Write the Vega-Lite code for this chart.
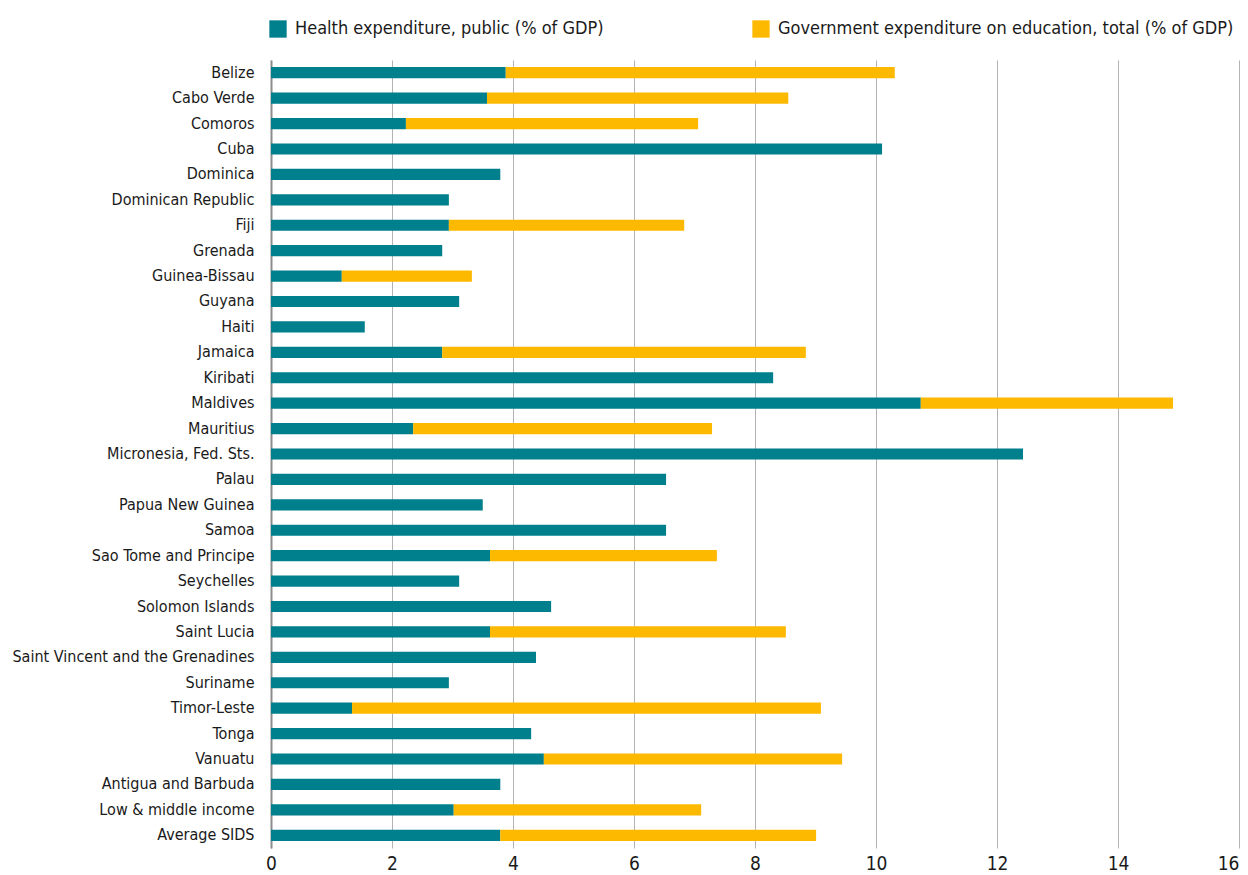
{
  "$schema": "https://vega.github.io/schema/vega-lite/v6.json",
  "width": 968,
  "height": 788,
  "autosize": {"type": "none"},
  "padding": {"left": 271, "top": 60, "right": 9, "bottom": 27},
  "background": "white",
  "config": {
    "font": "DejaVu Sans Condensed, Roboto, sans-serif",
    "view": {"stroke": null}
  },
  "data": {
    "values": [
      {"country": "Belize", "Health expenditure, public (% of GDP)": 3.88, "Government expenditure on education, total (% of GDP)": 6.43},
      {"country": "Cabo Verde", "Health expenditure, public (% of GDP)": 3.57, "Government expenditure on education, total (% of GDP)": 4.98},
      {"country": "Comoros", "Health expenditure, public (% of GDP)": 2.23, "Government expenditure on education, total (% of GDP)": 4.83},
      {"country": "Cuba", "Health expenditure, public (% of GDP)": 10.1},
      {"country": "Dominica", "Health expenditure, public (% of GDP)": 3.79},
      {"country": "Dominican Republic", "Health expenditure, public (% of GDP)": 2.94},
      {"country": "Fiji", "Health expenditure, public (% of GDP)": 2.94, "Government expenditure on education, total (% of GDP)": 3.89},
      {"country": "Grenada", "Health expenditure, public (% of GDP)": 2.83},
      {"country": "Guinea-Bissau", "Health expenditure, public (% of GDP)": 1.17, "Government expenditure on education, total (% of GDP)": 2.15},
      {"country": "Guyana", "Health expenditure, public (% of GDP)": 3.11},
      {"country": "Haiti", "Health expenditure, public (% of GDP)": 1.55},
      {"country": "Jamaica", "Health expenditure, public (% of GDP)": 2.83, "Government expenditure on education, total (% of GDP)": 6.01},
      {"country": "Kiribati", "Health expenditure, public (% of GDP)": 8.3},
      {"country": "Maldives", "Health expenditure, public (% of GDP)": 10.74, "Government expenditure on education, total (% of GDP)": 4.17},
      {"country": "Mauritius", "Health expenditure, public (% of GDP)": 2.35, "Government expenditure on education, total (% of GDP)": 4.94},
      {"country": "Micronesia, Fed. Sts.", "Health expenditure, public (% of GDP)": 12.43},
      {"country": "Palau", "Health expenditure, public (% of GDP)": 6.53},
      {"country": "Papua New Guinea", "Health expenditure, public (% of GDP)": 3.5},
      {"country": "Samoa", "Health expenditure, public (% of GDP)": 6.53},
      {"country": "Sao Tome and Principe", "Health expenditure, public (% of GDP)": 3.62, "Government expenditure on education, total (% of GDP)": 3.75},
      {"country": "Seychelles", "Health expenditure, public (% of GDP)": 3.11},
      {"country": "Solomon Islands", "Health expenditure, public (% of GDP)": 4.63},
      {"country": "Saint Lucia", "Health expenditure, public (% of GDP)": 3.62, "Government expenditure on education, total (% of GDP)": 4.89},
      {"country": "Saint Vincent and the Grenadines", "Health expenditure, public (% of GDP)": 4.38},
      {"country": "Suriname", "Health expenditure, public (% of GDP)": 2.94},
      {"country": "Timor-Leste", "Health expenditure, public (% of GDP)": 1.34, "Government expenditure on education, total (% of GDP)": 7.75},
      {"country": "Tonga", "Health expenditure, public (% of GDP)": 4.3},
      {"country": "Vanuatu", "Health expenditure, public (% of GDP)": 4.51, "Government expenditure on education, total (% of GDP)": 4.93},
      {"country": "Antigua and Barbuda", "Health expenditure, public (% of GDP)": 3.79},
      {"country": "Low & middle income", "Health expenditure, public (% of GDP)": 3.02, "Government expenditure on education, total (% of GDP)": 4.09},
      {"country": "Average SIDS", "Health expenditure, public (% of GDP)": 3.79, "Government expenditure on education, total (% of GDP)": 5.22}
    ]
  },
  "transform": [
    {"fold": ["Health expenditure, public (% of GDP)", "Government expenditure on education, total (% of GDP)"], "as": ["series", "value"]},
    {"filter": "isValid(datum.value)"}
  ],
  "mark": {"type": "bar"},
  "encoding": {
    "y": {
      "field": "country",
      "type": "nominal",
      "sort": null,
      "scale": {"paddingInner": 0.56, "paddingOuter": 0.28},
      "axis": {
        "title": null,
        "ticks": false,
        "labelFontSize": 16,
        "labelColor": "#1a1a1a",
        "labelPadding": 17,
        "labelLimit": 300,
        "domainColor": "#8c8c8c",
        "domainWidth": 2
      }
    },
    "x": {
      "field": "value",
      "type": "quantitative",
      "stack": "zero",
      "scale": {"domain": [0, 16], "nice": false},
      "axis": {
        "title": null,
        "values": [0, 2, 4, 6, 8, 10, 12, 14, 16],
        "domain": false,
        "ticks": false,
        "grid": true,
        "gridColor": "#b3b3b3",
        "gridWidth": 1,
        "labelFlush": false,
        "labelAlign": {"expr": "datum.value == 16 ? 'right' : 'center'"},
        "labelFontSize": 19,
        "labelColor": "#1a1a1a",
        "labelPadding": 6
      }
    },
    "color": {
      "field": "series",
      "type": "nominal",
      "scale": {
        "domain": ["Health expenditure, public (% of GDP)", "Government expenditure on education, total (% of GDP)"],
        "range": ["#007f8c", "#fdb900"]
      },
      "legend": {
        "title": null,
        "orient": "none",
        "legendX": -2,
        "legendY": -40,
        "direction": "horizontal",
        "columns": 2,
        "columnPadding": 148,
        "symbolType": "square",
        "symbolSize": 300,
        "symbolStrokeWidth": 0,
        "labelFontSize": 18,
        "labelColor": "#1a1a1a",
        "labelLimit": 500,
        "labelOffset": 8
      }
    },
    "order": {"field": "series", "sort": "descending"}
  }
}
